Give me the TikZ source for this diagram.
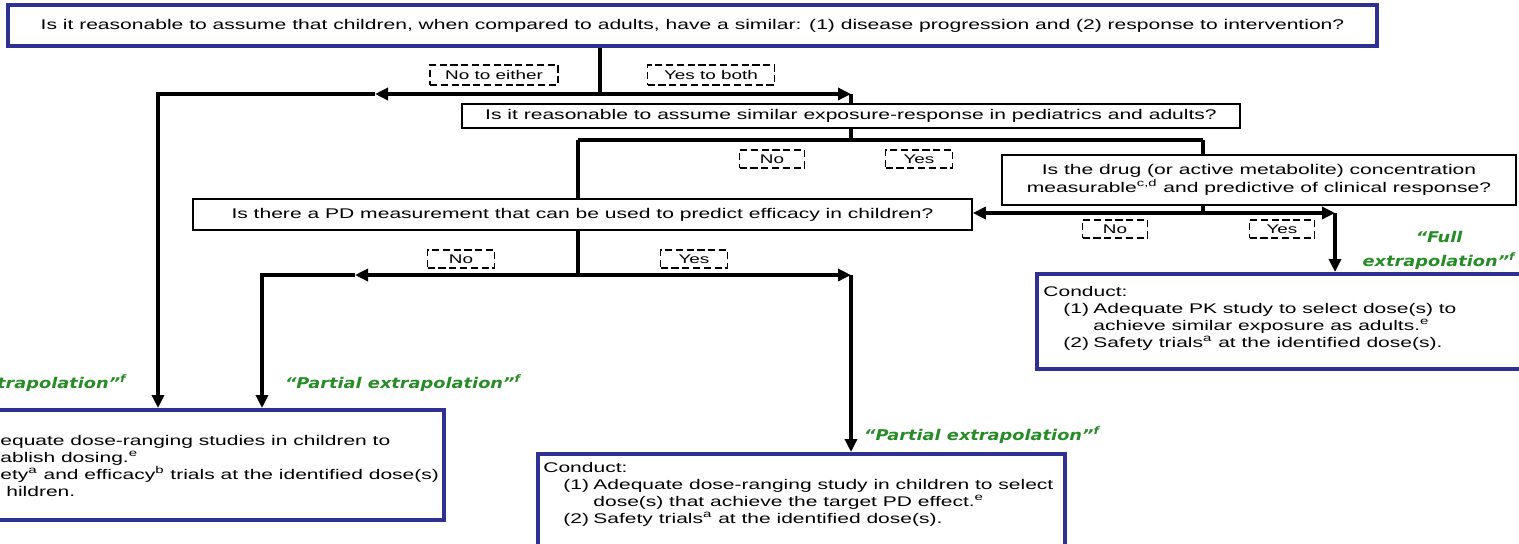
\documentclass[tikz,border=0pt]{standalone}
\usepackage{fontspec}
\setmainfont{Liberation Sans}[FakeStretch=1.5]
\newfontfamily\verdictfamily{DejaVu Sans}[FakeStretch=1.2]
\usetikzlibrary{arrows.meta}
\definecolor{boxblue}{RGB}{46,49,146}
\definecolor{verdictgreen}{RGB}{38,140,38}
\newcommand{\qfont}{\fontsize{7.02}{9}\selectfont}
\newcommand{\boxfont}{\fontsize{7}{8.5}\selectfont}
\newcommand{\choicefont}{\fontsize{6.3}{7.5}\selectfont}
\newcommand{\verdictfont}{\verdictfamily\bfseries\itshape\fontsize{7.4}{12}\selectfont}
\newcommand{\itemline}[2]{\hspace*{10pt}\makebox[15pt][l]{#1}#2}
\newcommand{\contline}[1]{\hspace*{25pt}#1}

\begin{document}
\begin{tikzpicture}[x=0.5pt, y=-0.5pt,
  question/.style={draw, line width=0.8pt, inner sep=0pt, font=\qfont},
  asked/.style={draw=boxblue, line width=2pt, inner sep=0pt, font=\qfont},
  outcome/.style={draw=boxblue, line width=2pt, inner sep=0pt},
  boxtext/.style={anchor=north west, align=left, inner sep=0pt, font=\boxfont},
  choice/.style={draw, line width=0.9pt, dash pattern=on 3.6pt off 1.8pt, inner sep=0pt, font=\choicefont},
  verdict/.style={text=verdictgreen, font=\verdictfont, align=center, inner sep=0pt},
  flow/.style={line width=1.7pt},
  flowarrow/.style={flow, -{Triangle[length=6.5pt, width=6pt]}}]
\useasboundingbox (0,0) rectangle (1519,543);
\clip (0,0) rectangle (1519,543);

% questions
\node[asked, minimum width=684.5pt, minimum height=20.5pt] (q1) at (692.5,25.5)
  {Is it reasonable to assume that children, when compared to adults, have a similar: (1) disease progression and (2) response to intervention?};
\node[question, minimum width=389pt, minimum height=12pt] (q2) at (851,116)
  {Is it reasonable to assume similar exposure-response in pediatrics and adults?};
\node[question, minimum width=257pt, minimum height=25pt, align=center] (q3) at (1259,180)
  {Is the drug (or active metabolite) concentration\\ measurable\textsuperscript{c,d} and predictive of clinical response?};
\node[question, minimum width=389.5pt, minimum height=15.5pt] (q4) at (582.5,214.5)
  {Is there a PD measurement that can be used to predict efficacy in children?};

% outcomes
\node[outcome, anchor=north west, minimum width=226pt, minimum height=55pt] (none) at (-10,408) {};
\node[boxtext] (nonetext) at (0,435)
  {equate dose-ranging studies in children to\\
   ablish dosing.\textsuperscript{e}\\
   ety\textsuperscript{a} and efficacy\textsuperscript{b} trials at the identified dose(s)\\
   \hspace*{3pt}hildren.};
\node[outcome, anchor=north west, minimum width=247.5pt, minimum height=47.5pt] (full) at (1035,272) {};
\node[boxtext] (fulltext) at (1043,286)
  {Conduct:\\
   \itemline{(1)}{Adequate PK study to select dose(s) to}\\
   \contline{achieve similar exposure as adults.\textsuperscript{e}}\\
   \itemline{(2)}{Safety trials\textsuperscript{a} at the identified dose(s).}};
\node[outcome, anchor=north west, minimum width=263.5pt, minimum height=48pt] (mid) at (536,452) {};
\node[boxtext] (midtext) at (543,462)
  {Conduct:\\
   \itemline{(1)}{Adequate dose-ranging study in children to select}\\
   \contline{dose(s) that achieve the target PD effect.\textsuperscript{e}}\\
   \itemline{(2)}{Safety trials\textsuperscript{a} at the identified dose(s).}};

% answers
\node[choice, minimum width=64pt, minimum height=10pt] (noeither) at (494,75) {No to either};
\node[choice, minimum width=63.5pt, minimum height=10pt] (yesboth) at (711,75) {Yes to both};
\node[choice, minimum width=32.5pt, minimum height=9pt] (noexp) at (772,159) {No};
\node[choice, minimum width=33.5pt, minimum height=9pt] (yesexp) at (919,159) {Yes};
\node[choice, minimum width=32.5pt, minimum height=9pt] (nodrug) at (1115,229) {No};
\node[choice, minimum width=32.5pt, minimum height=9pt] (yesdrug) at (1282,229) {Yes};
\node[choice, minimum width=33.5pt, minimum height=9pt] (nopd) at (461,259) {No};
\node[choice, minimum width=33.5pt, minimum height=9pt] (yespd) at (694,259) {Yes};

% verdicts
\node[verdict, anchor=east] (vnone) at (127,383) {trapolation”\textsuperscript{f}};
\node[verdict] (vpartleft) at (403,383) {“Partial extrapolation”\textsuperscript{f}};
\node[verdict, anchor=east] (vfull) at (1516,250) {“Full\\extrapolation”\textsuperscript{f}};
\node[verdict] (vpartmid) at (982,435) {“Partial extrapolation”\textsuperscript{f}};

% connectors
\coordinate (s1) at (600,94);
\coordinate (m1) at (375,94);
\coordinate (c0) at (158,94);
\coordinate (c1) at (851,94);
\coordinate (s2) at (851,140);
\coordinate (c2l) at (578,140);
\coordinate (c2r) at (1203,140);
\coordinate (s3) at (1203,213);
\coordinate (c3) at (1335,213);
\coordinate (s4) at (578,275);
\coordinate (m4) at (355,275);
\coordinate (c4l) at (262,275);
\coordinate (c4r) at (851,275);

\draw[flow] (s1 |- q1.south) -- (s1);
\draw[flowarrow] (s1) -- (m1);
\draw[flowarrow] (m1) -- (c0) -- (c0 |- none.north);
\draw[flowarrow] (s1) -- (c1);
\draw[flow] (c1) -- (q2.north);
\draw[flow] (q2.south) -- (s2);
\draw[flow] (c2l) -- (c2r);
\draw[flow] (c2l) -- (c2l |- q4.north);
\draw[flow] (c2r) -- (c2r |- q3.north);
\draw[flow] (s3 |- q3.south) -- (s3);
\draw[flowarrow] (s3) -- (s3 -| q4.east);
\draw[flowarrow] (s3) -- (c3);
\draw[flowarrow] (c3) -- (c3 |- full.north);
\draw[flow] (s4 |- q4.south) -- (s4);
\draw[flowarrow] (s4) -- (m4);
\draw[flowarrow] (m4) -- (c4l) -- (c4l |- none.north);
\draw[flowarrow] (s4) -- (c4r);
\draw[flowarrow] (c4r) -- (c4r |- mid.north);
\end{tikzpicture}
\end{document}
